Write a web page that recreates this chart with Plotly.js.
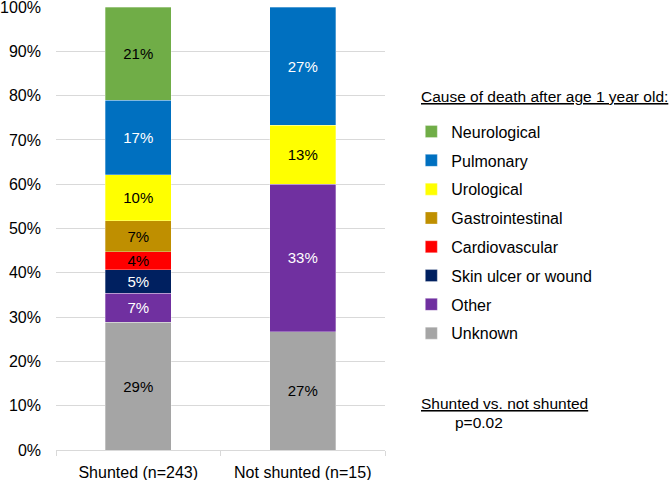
<!DOCTYPE html>
<html>
<head>
<meta charset="utf-8">
<script src="https://cdn.plot.ly/plotly-3.0.1.min.js"></script>
<style>html,body{margin:0;padding:0;background:#fff;}#chart{width:670px;height:480px;}</style>
</head>
<body>
<div id="chart"></div>
<script>
const categories = ['Shunted (n=243)', 'Not shunted (n=15)'];
const causes = ['Unknown', 'Other', 'Skin ulcer or wound', 'Cardiovascular', 'Gastrointestinal', 'Urological', 'Pulmonary', 'Neurological'];
const unknownPct = [28.8, 26.7];
const otherPct = [6.6, 33.3];
const skinPct = [5.3, null];
const cardioPct = [4.1, null];
const gastroPct = [7.0, null];
const uroPct = [10.3, 13.3];
const pulmPct = [16.9, 26.7];
const neuroPct = [21.0, null];
const yTicks = [0, 10, 20, 30, 40, 50, 60, 70, 80, 90, 100];

const seriesValues = [unknownPct, otherPct, skinPct, cardioPct, gastroPct, uroPct, pulmPct, neuroPct];
const colors = ['#A5A5A5', '#7030A0', '#002060', '#FF0000', '#BF8F00', '#FFFF00', '#0070C0', '#70AD47'];
const textColors = ['#000', '#fff', '#fff', '#000', '#000', '#000', '#fff', '#000'];

const FONT = 'Liberation Sans, Arial, sans-serif';

const traces = causes.map((name, i) => ({
  type: 'bar',
  name: name,
  x: categories,
  y: seriesValues[i],
  marker: {color: colors[i], line: {width: 0.5, color: 'rgba(255,255,255,0.6)'}},
  texttemplate: '%{y:.0f}%',
  textposition: 'inside',
  insidetextanchor: 'middle',
  textfont: {family: FONT, size: 15, color: textColors[i]},
  legendgroup: name,
  legendrank: 100 - i,
  hoverinfo: 'skip'
}));

const layout = {
  width: 670, height: 480,
  margin: {l: 56, r: 285, t: 7, b: 30},
  barmode: 'stack',
  bargap: 0.6,
  paper_bgcolor: '#fff', plot_bgcolor: '#fff',
  font: {family: FONT, size: 16, color: '#000'},
  uniformtext: {mode: 'show', minsize: 15},
  xaxis: {
    type: 'category',
    showgrid: false,
    showline: true, linecolor: '#D9D9D9', linewidth: 1,
    ticks: 'outside', tickson: 'boundaries', ticklen: 5, tickcolor: '#D9D9D9',
    ticklabelstandoff: 8,
    tickfont: {family: FONT, size: 16, color: '#000'}
  },
  yaxis: {
    range: [0, 100],
    tickvals: yTicks,
    ticktext: yTicks.map(v => v + '%'),
    showgrid: true, gridcolor: '#D9D9D9', gridwidth: 1,
    zeroline: false, showline: false,
    ticklabelstandoff: 14,
    ticklabeloverflow: 'allow',
    tickfont: {family: FONT, size: 16, color: '#000'}
  },
  showlegend: true,
  legend: {
    x: 1.08, xanchor: 'left',
    y: 0.757, yanchor: 'top',
    traceorder: 'grouped',
    tracegroupgap: 5,
    font: {family: FONT, size: 16, color: '#000'},
    bgcolor: 'rgba(0,0,0,0)'
  },
  annotations: [
    {text: '<u>Cause of death after age 1 year old:</u>', xref: 'paper', yref: 'paper', x: 1.103, y: 0.799, xanchor: 'left', yanchor: 'middle', showarrow: false, font: {family: FONT, size: 15.5, color: '#000'}},
    {text: '<u>Shunted vs. not shunted</u>', xref: 'paper', yref: 'paper', x: 1.103, y: 0.104, xanchor: 'left', yanchor: 'middle', showarrow: false, font: {family: FONT, size: 15.5, color: '#000'}},
    {text: 'p=0.02', xref: 'paper', yref: 'paper', x: 1.207, y: 0.063, xanchor: 'left', yanchor: 'middle', showarrow: false, font: {family: FONT, size: 15.5, color: '#000'}}
  ]
};

Plotly.newPlot('chart', traces, layout, {displayModeBar: false, staticPlot: true});
</script>
</body>
</html>
